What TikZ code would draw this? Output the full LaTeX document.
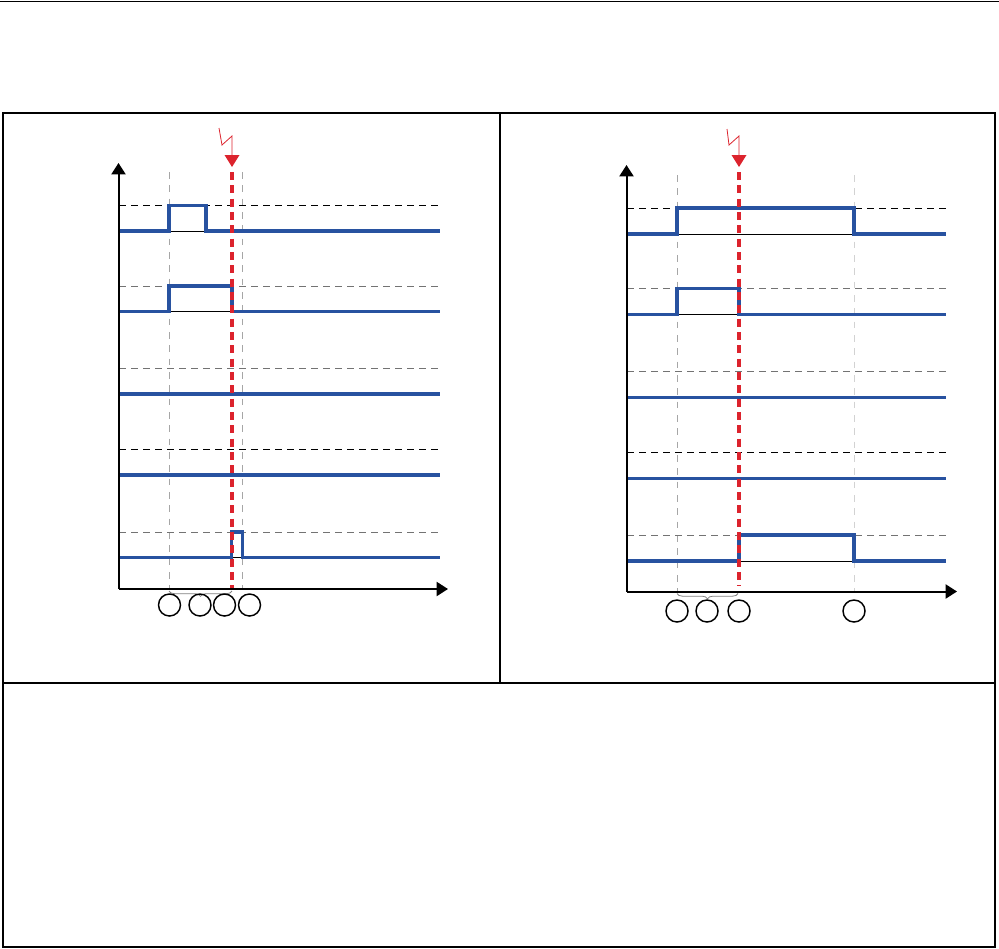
\documentclass[tikz,border=0pt]{standalone}
\usetikzlibrary{arrows.meta}
\usetikzlibrary{decorations.pathreplacing}
\definecolor{sigblue}{RGB}{40,82,160}
\definecolor{faultred}{RGB}{220,35,45}

\tikzset{
  sig/.style={sigblue, line width=2.5pt},
  lvl/.style={line width=0.7pt, dash pattern=on 5pt off 4pt},
  guide/.style={gray!70, line width=0.7pt, dash pattern=on 5pt off 5pt},
  fault/.style={faultred, line width=2.5pt, dash pattern=on 6pt off 4pt},
  axis/.style={line width=1.5pt, -{Triangle[length=8.5pt,width=10.5pt]}},
  num/.style={circle, draw, line width=1.1pt, minimum size=16.5pt, inner sep=0pt},
  frame/.style={line width=1.1pt}
}

\begin{document}
\begin{tikzpicture}[x=0.75pt,y=0.75pt,yscale=-1,xscale=1]
\useasboundingbox (0,0) rectangle (999,949);

%Frame
\draw [line width=0.9pt] (0,1.5) -- (999,1.5);
\draw [frame] (3,113) rectangle (995,947);
\draw [frame] (500,113) -- (500,683);
\draw [frame] (3,683) -- (995,683);

%Left chart: axes
\coordinate (lo) at (118.5,589);
\coordinate (ly) at (118.5,163);
\coordinate (lx) at (448,589);
%guide lines
\draw [guide] (169,172) -- (169,589);
\draw [guide] (242.5,172) -- (242.5,589);
%levels and base lines
\foreach \y/\c in {231/black,311.5/black!55,394/black!55,475/black,557.5/black!55}{
  \draw [lvl, \c] (119,\y-25.5) -- (440,\y-25.5);
  \draw [black, line width=0.6pt] (119,\y) -- (440,\y);
}
%signals
\draw [sig] (119,231) -- (169,231) -- (169,205.5) -- (206,205.5) -- (206,231) -- (440,231);
\draw [sig] (119,311.5) -- (169,311.5) -- (169,286) -- (232,286) -- (232,311.5) -- (440,311.5);
\draw [sig] (119,394) -- (440,394);
\draw [sig] (119,475) -- (440,475);
\draw [sig] (119,557.5) -- (231.5,557.5) -- (231.5,532) -- (242.5,532) -- (242.5,557.5) -- (440,557.5);
%fault
\draw [fault] (232,172) -- (232,589);
\draw [faultred, line width=0.6pt] (219,128) -- (222,145) -- (232,136) -- (232,156);
\fill [faultred] (224.5,155) -- (239.5,155) -- (232,167) -- cycle;
\draw [axis] (lo) -- (ly);
\draw [axis] (lo) -- (lx);
\draw [decorate, decoration={brace, amplitude=4pt, mirror}, black!50, line width=0.6pt] (169,591) -- (232,591);
\node [num] (l1) at (169.5,605) {};
\node [num] (l2) at (200,605) {};
\node [num] (l3) at (224.5,605) {};
\node [num] (l4) at (249.5,605) {};

%Right chart: axes
\coordinate (ro) at (626.5,591.5);
\coordinate (ry) at (626.5,165);
\coordinate (rx) at (957,591.5);
%guide lines
\draw [guide] (677,175) -- (677,591.5);
\draw [guide, gray!35] (854,175) -- (854,591.5);
%levels and base lines
\foreach \y/\c in {234/black,314.5/black!55,397.5/black!55,478.5/black,561/black!55}{
  \draw [lvl, \c] (627,\y-26) -- (946,\y-26);
  \draw [black, line width=0.6pt] (627,\y) -- (946,\y);
}
%signals
\draw [sig] (627,234) -- (677,234) -- (677,208) -- (854,208) -- (854,234) -- (946,234);
\draw [sig] (627,314.5) -- (677,314.5) -- (677,288.5) -- (739,288.5) -- (739,314.5) -- (946,314.5);
\draw [sig] (627,397.5) -- (946,397.5);
\draw [sig] (627,478.5) -- (946,478.5);
\draw [sig] (627,561) -- (739,561) -- (739,535) -- (854,535) -- (854,561) -- (946,561);
%fault
\draw [fault] (739,172) -- (739,586);
\draw [faultred, line width=0.6pt] (727,129) -- (729,145) -- (739,136) -- (739,156);
\fill [faultred] (731.5,155) -- (746.5,155) -- (739,167) -- cycle;
\draw [axis] (ro) -- (ry);
\draw [axis] (ro) -- (rx);
\draw [decorate, decoration={brace, amplitude=4pt, mirror}, black!50, line width=0.6pt] (677,593.5) -- (738,593.5);
\node [num] (r1) at (677,611) {};
\node [num] (r2) at (707,611) {};
\node [num] (r3) at (739,611) {};
\node [num] (r4) at (854,611) {};

\end{tikzpicture}
\end{document}
